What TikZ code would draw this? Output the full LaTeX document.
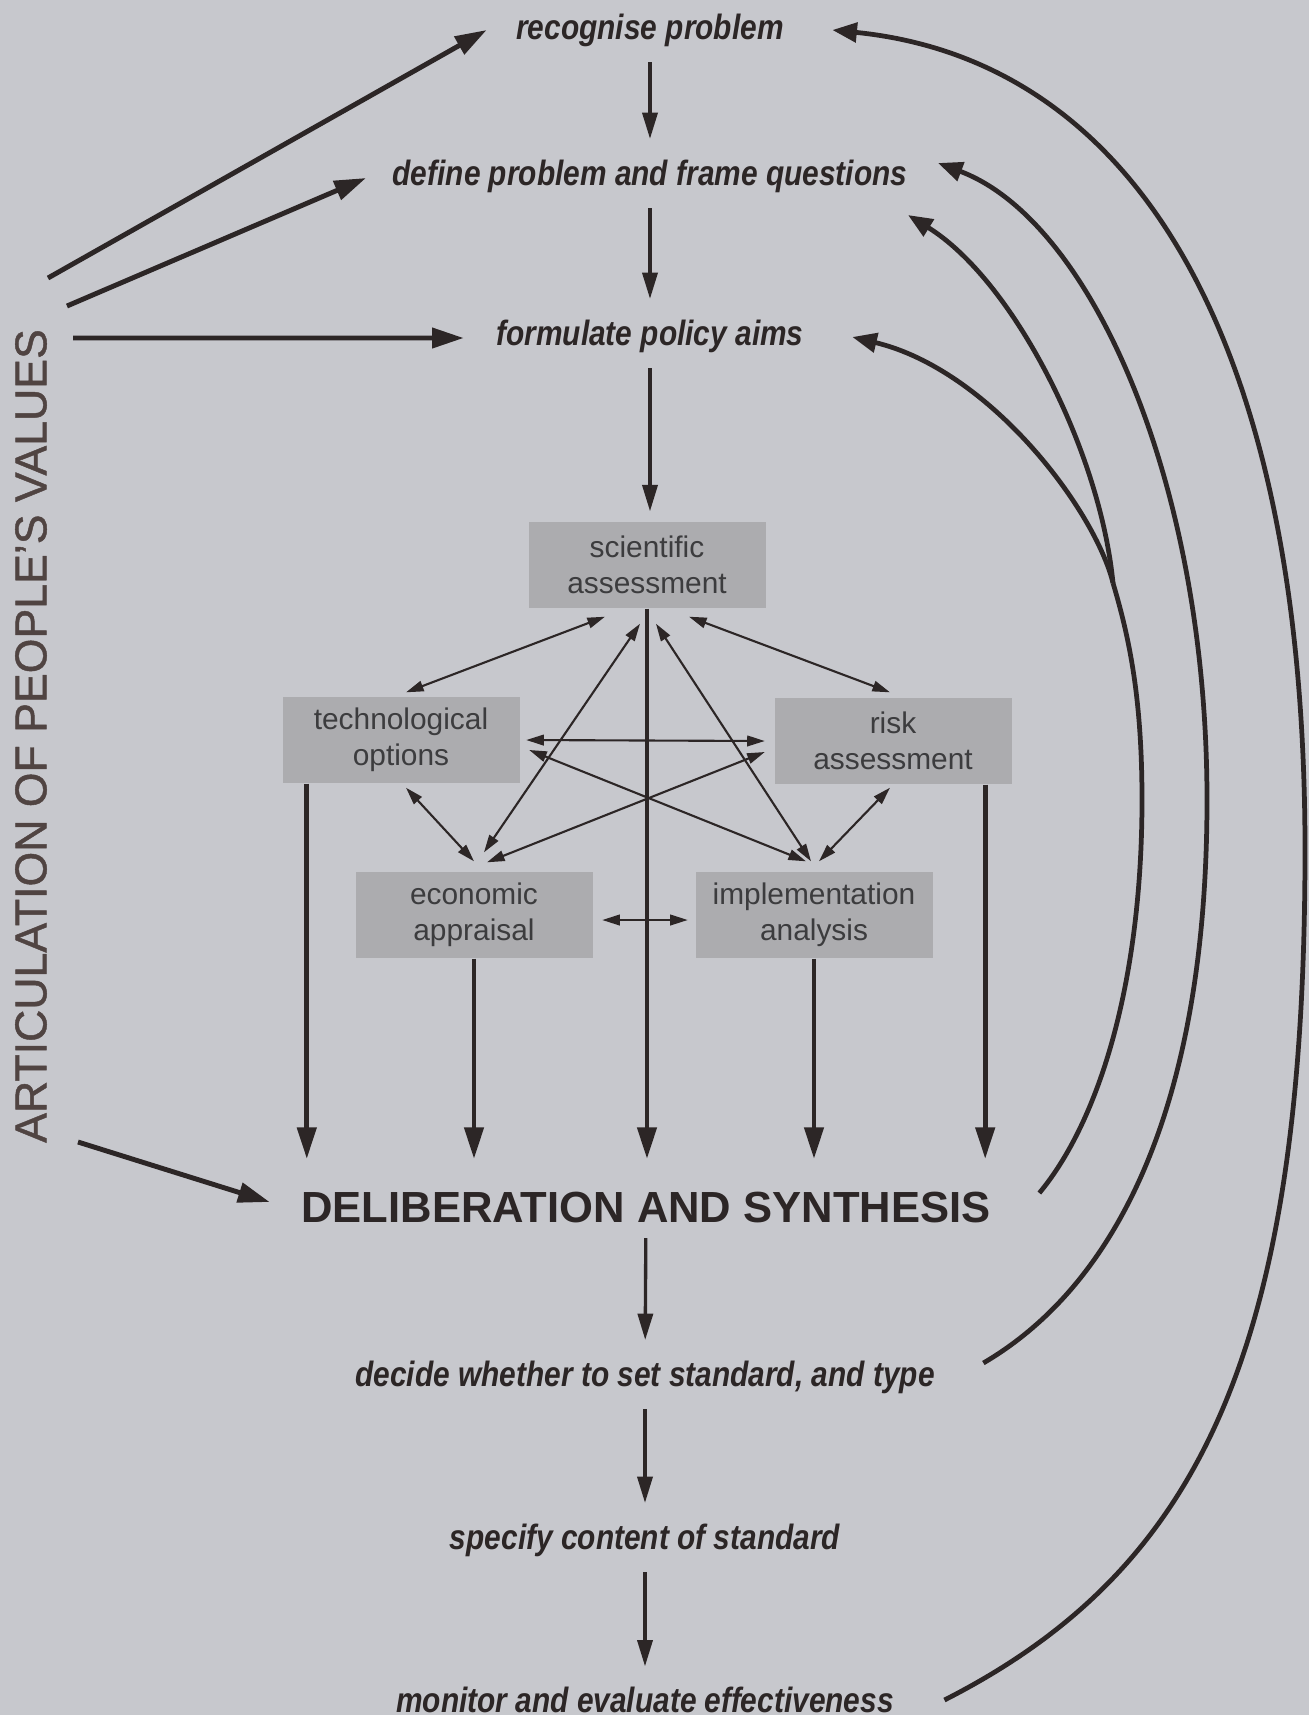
\documentclass[tikz,border=0pt]{standalone}
\usepackage{fontspec}
\setmainfont{Liberation Sans}
\newfontfamily\narrowfont[FakeStretch=0.85]{Liberation Sans}
\newfontfamily\peoplefont[FakeBold=1]{Liberation Sans}
\usepackage{tikz}
\usetikzlibrary{arrows.meta}
\usetikzlibrary{positioning}
\usepackage{xcolor}
\definecolor{paper}{RGB}{199,200,205}
\definecolor{panel}{RGB}{172,172,175}
\definecolor{ink}{RGB}{44,38,38}
\definecolor{panelink}{RGB}{60,60,62}
\definecolor{peopleink}{RGB}{80,68,66}

\begin{document}
\begin{tikzpicture}[x=0.1mm, y=-0.1mm,
	every node/.style={text=ink},
	stage/.style={font=\fontsize{10}{12}\narrowfont\bfseries\itshape, inner sep=0pt},
	panelbox/.style={fill=panel, text=panelink, align=center, inner sep=0pt, minimum width=23.7mm, minimum height=8.6mm, font=\fontsize{8.5}{10.2}\selectfont},
	flowarrow/.style={draw=ink, line width=0.95pt, -{Triangle[length=7.5pt,width=4.3pt]}, shorten <=1.5mm, shorten >=2mm},
	feedarrow/.style={draw=ink, line width=1.35pt, -{Triangle[length=9pt,width=5.4pt]}},
	linkarrow/.style={draw=ink, line width=0.6pt, {Triangle[length=5pt,width=3pt]}-{Triangle[length=5pt,width=3pt]}},
	valuearrow/.style={draw=ink, line width=1.4pt, -{Triangle[length=9pt,width=5.6pt]}},
	feedback/.style={draw=ink, line width=1.35pt, -{Triangle[length=7pt,width=5.5pt]}}]
			\fill[paper] (0,0) rectangle (1309,1715);
			
			% stages of the process
			\node[stage] (rec) at (650,30) {recognise problem};
			\node[stage] (def) at (650,176) {define problem and frame questions};
			\node[stage] (aims) at (650,336) {formulate policy aims};
			\node[font=\fontsize{12.4}{15}\selectfont\bfseries, inner sep=0pt] (delib) at (646,1207) {DELIBERATION AND SYNTHESIS};
			\node[stage] (decide) at (645,1377) {decide whether to set standard, and type};
			\node[stage] (spec) at (645,1540) {specify content of standard};
			\node[stage] (mon) at (645,1700) {monitor and evaluate effectiveness};
			\node[rotate=90, text=peopleink, font=\fontsize{12.7}{15}\peoplefont, inner sep=0pt] (people) at (31,736) {ARTICULATION OF PEOPLE’S VALUES};
			
			% the five assessments
			\node[panelbox] (sci) at (647,565) {scientific\\assessment};
			\node[panelbox] (tech) at (401,740) {technological\\options};
			\node[panelbox] (risk) at (893,741) {risk\\assessment};
			\node[panelbox] (econ) at (474,915) {economic\\appraisal};
			\node[panelbox] (impl) at (814,915) {implementation\\analysis};
			
			\draw[flowarrow] (rec) -- (def);
			\draw[flowarrow] (def) -- (aims);
			\draw[flowarrow, shorten >=1mm] (aims) -- (aims |- sci.north);
			\draw[flowarrow] (delib) -- (decide);
			\draw[flowarrow] (decide) -- (spec);
			\draw[flowarrow] (spec) -- (mon);
			
			\coordinate (techout) at ([xshift=2.5mm]tech.south west);
			\coordinate (riskout) at ([xshift=-2.7mm]risk.south east);
			\draw[feedarrow, shorten >=3.2mm] (sci) -- (sci |- delib.north);
			\draw[feedarrow, shorten >=3.2mm] (techout) -- (techout |- delib.north);
			\draw[feedarrow, shorten >=3.2mm] (econ.south) -- (econ.south |- delib.north);
			\draw[feedarrow, shorten >=3.2mm] (impl.south) -- (impl.south |- delib.north);
			\draw[feedarrow, shorten >=3.2mm] (riskout) -- (riskout |- delib.north);
			
			\draw[linkarrow] ([xshift=-4.2mm,yshift=-0.8mm]sci.south) -- ([xshift=0.5mm,yshift=0.4mm]tech.north);
			\draw[linkarrow] ([xshift=4.2mm,yshift=-0.8mm]sci.south) -- ([xshift=-0.3mm,yshift=0.5mm]risk.north);
			\draw[linkarrow] ([xshift=-0.7mm,yshift=-1.5mm]sci.south) -- ([xshift=1mm,yshift=1.9mm]econ.north);
			\draw[linkarrow] ([xshift=0.9mm,yshift=-1.5mm]sci.south) -- ([xshift=-0.3mm,yshift=1mm]impl.north);
			\draw[linkarrow] ([xshift=0.6mm]tech.east) -- ([xshift=-0.9mm]risk.west);
			\draw[linkarrow] ([xshift=0.9mm,yshift=-1mm]tech.east) -- ([xshift=-0.8mm,yshift=1mm]impl.north);
			\draw[linkarrow] ([xshift=-0.9mm,yshift=-1.1mm]risk.west) -- ([xshift=1.3mm,yshift=0.9mm]econ.north);
			\draw[linkarrow] ([xshift=0.5mm,yshift=-0.4mm]tech.south) -- ([yshift=1mm]econ.north);
			\draw[linkarrow] ([xshift=-0.3mm,yshift=-0.3mm]risk.south) -- ([xshift=0.5mm,yshift=1mm]impl.north);
			\draw[linkarrow] ([xshift=0.9mm,yshift=-0.5mm]econ.east) -- ([xshift=-0.7mm,yshift=-0.5mm]impl.west);
			
			% people's values feed in from the left
			\coordinate (v1) at (48,278);
			\coordinate (v2) at (67,306);
			\coordinate (v3) at (73,338);
			\coordinate (v4) at (78,1142);
			\draw[valuearrow] (v1) -- ([xshift=-2.9mm]rec.west);
			\draw[valuearrow] (v2) -- ([xshift=-2.6mm,yshift=-0.2mm]def.west);
			\draw[valuearrow] (v3) -- ([xshift=-3.2mm,yshift=-0.2mm]aims.west);
			\draw[valuearrow] (v4) -- ([xshift=-3.1mm,yshift=0.5mm]delib.west);
			
			% feedback loops on the right
			\draw[feedback] ([xshift=5mm]mon.east) .. controls (1200,1570) and (1305,1350) .. (1305,850) .. controls (1305,330) and (1130,60) .. ([xshift=4.8mm]rec.east);
			\draw[feedback] ([xshift=4.8mm,yshift=1.4mm]decide.east) .. controls (1120,1283) and (1207,1100) .. (1207,800) .. controls (1207,480) and (1090,220) .. ([xshift=3mm,yshift=1.3mm]def.east);
			\coordinate (fork) at (1113,583);
			\draw[ink, line width=1.35pt] ([xshift=4.8mm,yshift=1.4mm]delib.east) .. controls (1100,1120) and (1142,980) .. (1142,800) .. controls (1142,700) and (1130,640) .. (fork);
			\draw[feedback] (fork) .. controls (1100,450) and (1013,280) .. ([yshift=-3.9mm]def.east);
			\draw[feedback] (fork) .. controls (1095,510) and (990,370) .. ([xshift=4.8mm,yshift=-0.1mm]aims.east);
		\end{tikzpicture}
\end{document}
